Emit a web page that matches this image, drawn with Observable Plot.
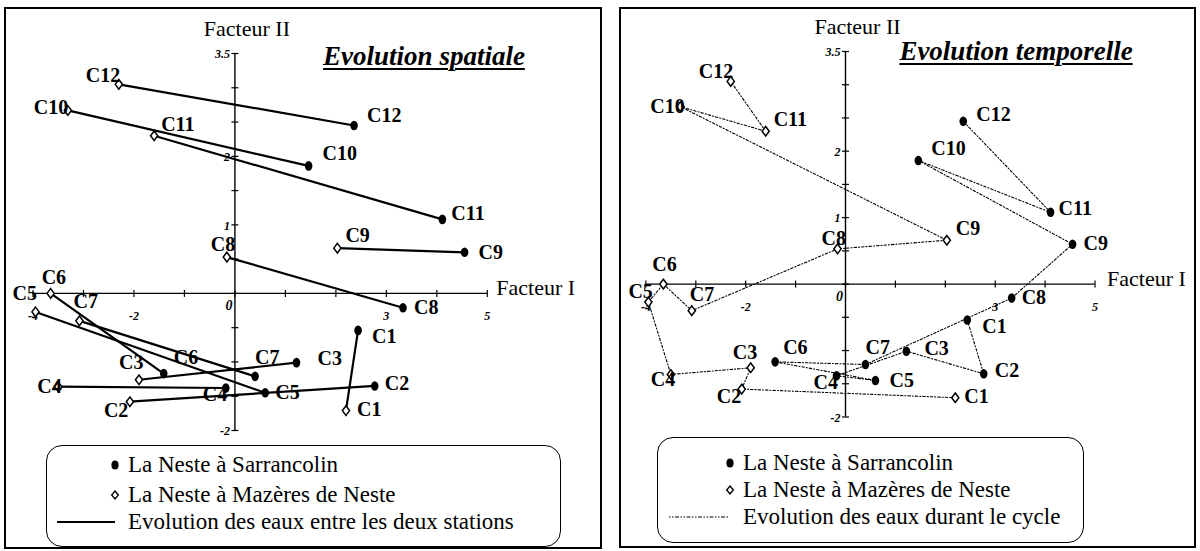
<!DOCTYPE html>
<html>
<head>
<meta charset="utf-8">
<script src="https://cdn.jsdelivr.net/npm/d3@7"></script>
<script src="https://cdn.jsdelivr.net/npm/@observablehq/plot@0.6"></script>
<style>
  body { margin: 0; background: #fff; }
  #wrap { position: relative; width: 1200px; height: 551px; overflow: hidden; font-family: "Liberation Serif", "Times New Roman", serif; color: #000; }
  .frame { position: absolute; border: 2px solid #000; box-sizing: border-box; }
  .plot { position: absolute; top: 0; }
  .title { position: absolute; font-family: "Liberation Serif", serif; font-weight: bold; font-style: italic; font-size: 27px; text-decoration: underline; text-decoration-thickness: 2px; text-underline-offset: 3px; white-space: nowrap; line-height: 1; transform: translateX(-50%); }
  .legend { position: absolute; border: 1.5px solid #000; border-radius: 16px; box-sizing: border-box; }
  .row { position: absolute; font-family: "Liberation Serif", serif; font-size: 23px; white-space: nowrap; line-height: 24px; }
  .sym { position: absolute; line-height: 0; }
</style>
</head>
<body>
<div id="wrap"></div>
<script>
// ---------- data ----------
const campaigns = ["C1","C2","C3","C4","C5","C6","C7","C8","C9","C10","C11","C12"];
// La Neste à Sarrancolin (Facteur I, Facteur II)
const sarrancolinF1 = [2.44, 2.77, 1.22, -0.18, 0.60, -1.41, 0.40, 3.33, 4.55, 1.46, 4.11, 2.36];
const sarrancolinF2 = [-0.54, -1.35, -1.01, -1.38, -1.45, -1.17, -1.21, -0.21, 0.60, 1.86, 1.08, 2.45];
// La Neste à Mazères de Neste
const mazeresF1 = [2.20, -2.08, -1.90, -3.50, -3.95, -3.65, -3.08, -0.16, 2.03, -3.31, -1.60, -2.30];
const mazeresF2 = [-1.71, -1.58, -1.26, -1.36, -0.27, 0.00, -0.40, 0.53, 0.66, 2.67, 2.30, 3.05];

const xDomain = [-4, 5];
const yDomain = [-2, 3.5];
const xTicks = [-4, -3, -2, -1, 0, 1, 2, 3, 4, 5];
const yTicks = [-2, -1.5, -1, -0.5, 0, 0.5, 1, 1.5, 2, 2.5, 3, 3.5];
const xTickLabels = [{v: -4, t: "-4"}, {v: -2, t: "-2"}, {v: 3, t: "3"}, {v: 5, t: "5"}];
const zeroLabel = [{v: 0, t: "0"}];
const yTickLabels = [{v: 3.5, t: "3.5"}, {v: 2, t: "2"}, {v: 1, t: "1"}, {v: -2, t: "-2"}];

const legendItems = ["La Neste à Sarrancolin", "La Neste à Mazères de Neste"];
const legendLineText = ["Evolution des eaux entre les deux stations", "Evolution des eaux durant le cycle"];
const titles = ["Evolution spatiale", "Evolution temporelle"];

// label offsets in pixels [dx, dy] for each campaign (style only)
const offLeftS = [[14,6],[10,-2],[21,-4],[-23,7],[10,0],[10,-16],[0,-19],[11,0],[14,0],[14,-12],[9,-6],[13,-10]];
const offLeftM = [[11,-1],[-26,9],[-20,-17],[-21,0],[-23,-18],[-9,-16],[-6,-19],[-16,-12],[8,-13],[-34,-3],[7,-11],[-33,-9]];
const offRightS = [[15,7],[11,-3],[18,-3],[-23,7],[14,0],[8,-14],[0,-17],[10,0],[11,-1],[13,-12],[8,-4],[13,-7]];
const offRightM = [[9,-1],[-25,8],[-18,-15],[-20,5],[-20,-10],[-11,-19],[-2,-16],[-16,-10],[9,-12],[-30,0],[8,-12],[-32,-10]];

// ---------- tables ----------
const rows = campaigns.map((c, i) => ({c, sF1: sarrancolinF1[i], sF2: sarrancolinF2[i], mF1: mazeresF1[i], mF2: mazeresF2[i]}));
const series = [
  ...campaigns.map((c, i) => ({station: "S", c, f1: sarrancolinF1[i], f2: sarrancolinF2[i]})),
  ...campaigns.map((c, i) => ({station: "M", c, f1: mazeresF1[i], f2: mazeresF2[i]}))
];

const FONT = "Liberation Serif, Times New Roman, serif";
const vTick = {draw(ctx) { ctx.moveTo(0, -3.5); ctx.lineTo(0, 3.5); }};
const hTick = {draw(ctx) { ctx.moveTo(-3.5, 0); ctx.lineTo(3.5, 0); }};
// slightly tall filled ellipse (scan look)
const ellipse = {draw(ctx) {
  const rx = 3.8, ry = 4.8, k = 0.5523;
  ctx.moveTo(0, -ry);
  ctx.bezierCurveTo(rx * k, -ry, rx, -ry * k, rx, 0);
  ctx.bezierCurveTo(rx, ry * k, rx * k, ry, 0, ry);
  ctx.bezierCurveTo(-rx * k, ry, -rx, ry * k, -rx, 0);
  ctx.bezierCurveTo(-rx, -ry * k, -rx * k, -ry, 0, -ry);
  ctx.closePath();
}};
const diamond = {draw(ctx) {
  ctx.moveTo(0, -4.8); ctx.lineTo(3.6, 0); ctx.lineTo(0, 4.8); ctx.lineTo(-3.6, 0); ctx.closePath();
}};

function makePanel(cfg) {
  const marks = [];
  // axes
  marks.push(Plot.ruleY([0], {x1: () => xDomain[0], x2: () => xDomain[1], stroke: "#000", strokeWidth: 1.4}));
  marks.push(Plot.ruleX([0], {y1: () => yDomain[0], y2: () => yDomain[1], stroke: "#000", strokeWidth: 1.4}));
  marks.push(Plot.dot(xTicks, {x: d => d, y: () => 0, symbol: vTick, stroke: "#000", strokeWidth: 1.2, fill: "none"}));
  marks.push(Plot.dot(yTicks, {x: () => 0, y: d => d, symbol: hTick, stroke: "#000", strokeWidth: 1.2, fill: "none"}));
  marks.push(Plot.text(xTickLabels, {x: "v", y: () => 0, text: "t", dy: 23, fontSize: 12, fontStyle: "italic", fontWeight: "bold", fontFamily: FONT}));
  marks.push(Plot.text(zeroLabel, {x: "v", y: () => 0, text: "t", dx: -6, dy: 12, fontSize: 14, fontStyle: "italic", fontWeight: "bold", fontFamily: FONT}));
  marks.push(Plot.text(yTickLabels, {x: () => 0, y: "v", text: "t", dx: -5, dy: 1, textAnchor: "end", fontSize: 12, fontStyle: "italic", fontWeight: "bold", fontFamily: FONT}));
  marks.push(Plot.text(["Facteur II"], {x: () => 0, y: () => yDomain[1], text: d => d, dx: 12, dy: -25, fontSize: 22, fontFamily: FONT}));
  marks.push(Plot.text(["Facteur I"], {x: () => xDomain[1], y: () => 0, text: d => d, dx: cfg.fIdx, dy: -5, textAnchor: "start", fontSize: 22, fontFamily: FONT}));

  if (cfg.mode === "spatial") {
    marks.push(Plot.link(rows, {x1: "mF1", y1: "mF2", x2: "sF1", y2: "sF2", stroke: "#000", strokeWidth: 2.2}));
  } else {
    marks.push(Plot.line(series, {x: "f1", y: "f2", z: "station", stroke: "#000", strokeWidth: 1.1, strokeDasharray: "2.5,2,1,2"}));
  }
  marks.push(Plot.dot(rows, {x: "sF1", y: "sF2", symbol: ellipse, fill: "#000", stroke: "none"}));
  marks.push(Plot.dot(rows, {x: "mF1", y: "mF2", symbol: diamond, fill: "#fff", stroke: "#000", strokeWidth: 1.5}));

  rows.forEach((r, i) => {
    const [sdx, sdy] = cfg.offS[i];
    const [mdx, mdy] = cfg.offM[i];
    marks.push(Plot.text([r], {x: "sF1", y: "sF2", text: "c", dx: sdx, dy: sdy, textAnchor: "start", fontSize: 20, fontWeight: "bold", fontFamily: FONT}));
    marks.push(Plot.text([r], {x: "mF1", y: "mF2", text: "c", dx: mdx, dy: mdy, textAnchor: "start", fontSize: 20, fontWeight: "bold", fontFamily: FONT}));
  });

  return Plot.plot({
    width: 600, height: 551,
    marginLeft: cfg.ml, marginRight: cfg.mr, marginTop: cfg.mt, marginBottom: cfg.mb,
    x: {domain: xDomain, axis: null},
    y: {domain: yDomain, axis: null},
    style: {background: "transparent", fontFamily: FONT, color: "#000"},
    marks
  });
}

const wrap = document.getElementById("wrap");

function addDiv(cls, css, html) {
  const d = document.createElement("div");
  d.className = cls;
  Object.assign(d.style, css);
  if (html !== undefined) d.innerHTML = html;
  wrap.appendChild(d);
  return d;
}

// panel frames
addDiv("frame", {left: "4px", top: "7px", width: "598px", height: "542px"});
addDiv("frame", {left: "619px", top: "7px", width: "577px", height: "541px"});

// plots
const left = makePanel({mode: "spatial", ml: 32.5, mr: 113.2, mt: 53, mb: 121, fIdx: 9, offS: offLeftS, offM: offLeftM});
left.classList.add("plot"); left.style.left = "0px"; wrap.appendChild(left);
const right = makePanel({mode: "temporal", ml: 45.4, mr: 105.5, mt: 51, mb: 134.5, fIdx: 12, offS: offRightS, offM: offRightM});
right.classList.add("plot"); right.style.left = "600px"; wrap.appendChild(right);

// titles
addDiv("title", {left: "424px", top: "43px"}, titles[0]);
addDiv("title", {left: "1016px", top: "38px"}, titles[1]);

// legends
const dotSvg = '<svg width="10" height="12"><ellipse cx="5" cy="6" rx="3.6" ry="4.5" fill="#000"/></svg>';
const diaSvg = '<svg width="10" height="12"><path d="M5,2 L8.3,6 L5,10 L1.7,6 Z" fill="#fff" stroke="#000" stroke-width="1.4"/></svg>';
function lineSvg(w, dash) {
  return '<svg width="' + w + '" height="6"><line x1="0" y1="3" x2="' + w + '" y2="3" stroke="#000" stroke-width="' + (dash ? 1 : 1.8) + '"' + (dash ? ' stroke-dasharray="' + dash + '"' : '') + '/></svg>';
}

function legend(box, rowsY, markX, lineX0, lineX1, textX, dash, lineText) {
  addDiv("legend", {left: box[0] + "px", top: box[1] + "px", width: (box[2] - box[0]) + "px", height: (box[3] - box[1]) + "px"});
  addDiv("sym", {left: (markX - 5) + "px", top: (rowsY[0] - 6) + "px"}, dotSvg);
  addDiv("sym", {left: (markX - 5) + "px", top: (rowsY[1] - 6) + "px"}, diaSvg);
  addDiv("sym", {left: lineX0 + "px", top: (rowsY[2] - 3) + "px"}, lineSvg(lineX1 - lineX0, dash));
  addDiv("row", {left: textX + "px", top: (rowsY[0] - 12) + "px"}, legendItems[0]);
  addDiv("row", {left: textX + "px", top: (rowsY[1] - 12) + "px"}, legendItems[1]);
  addDiv("row", {left: textX + "px", top: (rowsY[2] - 12) + "px"}, lineText);
}
legend([46, 445, 561, 547], [465, 495, 522], 115, 57, 115, 128, null, legendLineText[0]);
legend([657, 437, 1084, 543], [463, 490, 517], 730, 669, 728, 743, "1.5,1.5,1.5,1.5,4,1.5", legendLineText[1]);
</script>
</body>
</html>
